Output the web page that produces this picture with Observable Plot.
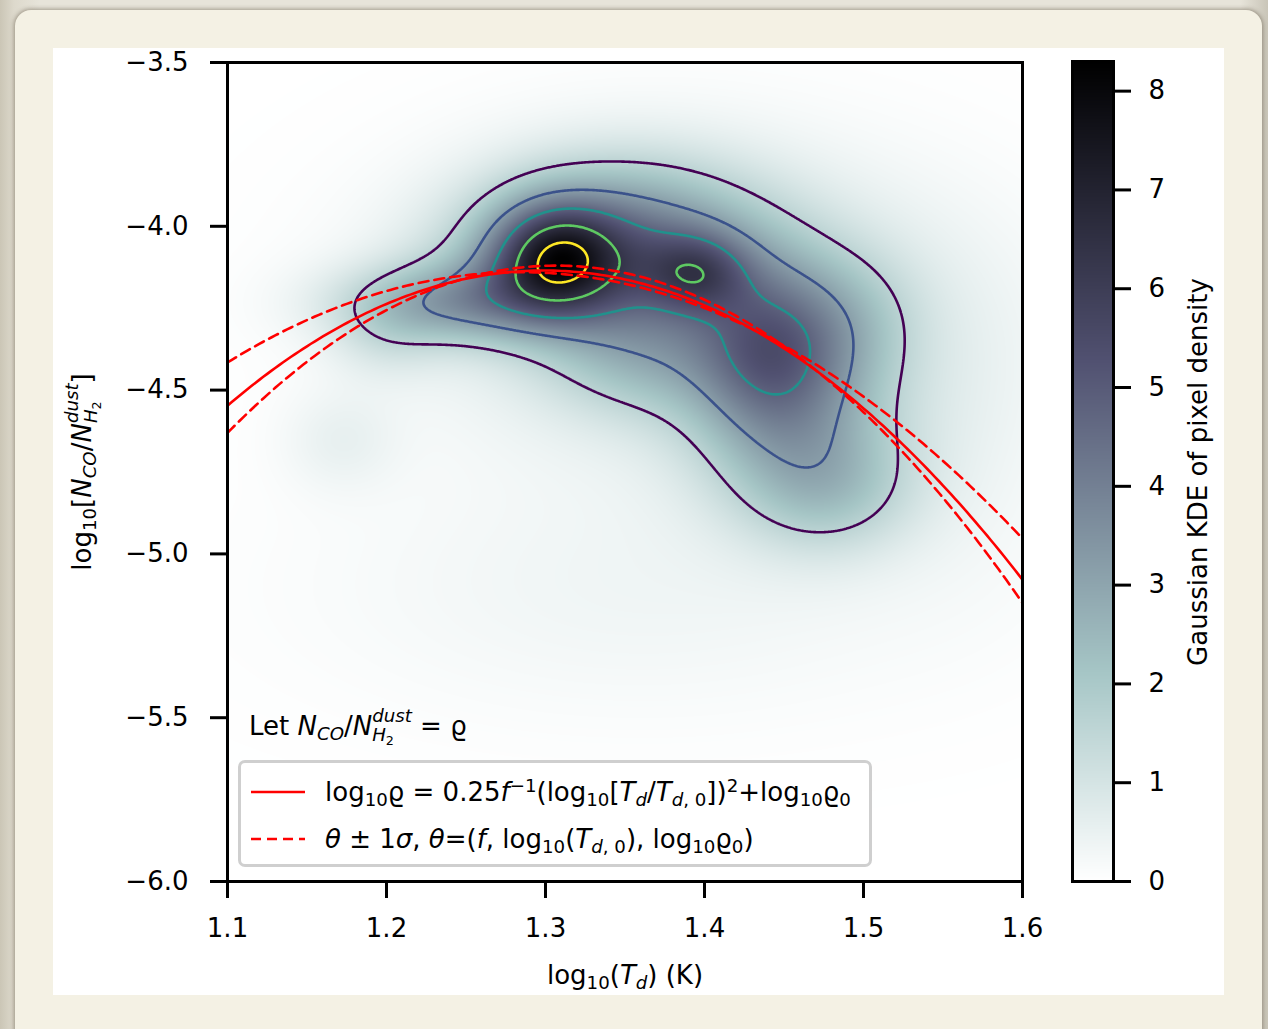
<!DOCTYPE html>
<html>
<head>
<meta charset="utf-8">
<script src="https://cdn.jsdelivr.net/npm/d3@7"></script>
<script src="https://cdn.jsdelivr.net/npm/@observablehq/plot@0.6"></script>
<style>
  html, body { margin: 0; padding: 0; }
  body {
    width: 1268px; height: 1029px; position: relative; overflow: hidden;
    background: linear-gradient(90deg, #cbc6b6 0px, #ddd9cc 14px, #e7e4da 40px, #e7e4da 1240px, #c9c5b8 1268px);
    font-family: "DejaVu Sans", sans-serif; color: #000;
  }
  #card {
    position: absolute; left: 15px; top: 10px; width: 1247px; height: 1060px;
    background: #f4f1e4; border-radius: 16px;
    box-shadow: 0 0 4px 1px rgba(70, 60, 40, 0.45);
  }
  #sheet { position: absolute; left: 53px; top: 48px; width: 1171px; height: 947px; background: #fff; }
  #main { position: absolute; left: 53px; top: 48px; }
  #bar { position: absolute; left: 1040px; top: 48px; }
  .txt { position: absolute; white-space: nowrap; font-size: 26px; line-height: 1; }
  .c { transform: translate(-50%, -50%); }
  .rot { transform: translate(-50%, -50%) rotate(-90deg); }
  i { font-style: italic; }
  sub { font-size: 0.7em; vertical-align: -0.28em; line-height: 0; }
  sup { font-size: 0.7em; vertical-align: 0.5em; line-height: 0; }
  .stack { display: inline-block; vertical-align: -0.32em; font-size: 0.7em; line-height: 1.02; text-align: left; }
  .stack span { display: block; }
  #legend {
    position: absolute; left: 238px; top: 760px; width: 628px; height: 101px;
    border: 3px solid #cfcfcf; border-radius: 7px; background: rgba(255, 255, 255, 0.8);
  }
  .row { position: absolute; left: 0; height: 30px; width: 100%; }
  .row svg { position: absolute; left: 8px; top: 0; }
  .row .txt { left: 84px; top: 50%; transform: translateY(-50%); }
</style>
</head>
<body>
<div id="card"></div>
<div id="sheet"></div>
<div id="main"></div>
<div id="bar"></div>

<div class="txt c" style="left:625px; top:975px;">log<sub>10</sub>(<i>T</i><sub><i>d</i></sub>) (K)</div>
<div class="txt rot" style="left:82px; top:472px;">log<sub>10</sub>[<i>N</i><sub><i>CO</i></sub>/<i>N</i><span class="stack"><span><i>dust</i></span><span><i>H</i><sub>2</sub></span></span>]</div>
<div class="txt rot" style="left:1198px; top:472px;">Gaussian KDE of pixel density</div>
<div class="txt" style="left:249px; top:707px;">Let <i>N</i><sub><i>CO</i></sub>/<i>N</i><span class="stack"><span><i>dust</i></span><span><i>H</i><sub>2</sub></span></span> = ϱ</div>

<div id="legend">
  <div class="row" style="top:14px;">
    <svg width="60" height="30"><line x1="2" y1="15" x2="56" y2="15" stroke="#ff0000" stroke-width="2.6"/></svg>
    <div class="txt">log<sub>10</sub>ϱ = 0.25<i>f</i><sup>−1</sup>(log<sub>10</sub>[<i>T</i><sub><i>d</i></sub>/<i>T</i><sub><i>d</i>, 0</sub>])<sup>2</sup>+log<sub>10</sub>ϱ<sub>0</sub></div>
  </div>
  <div class="row" style="top:61px;">
    <svg width="60" height="30"><line x1="2" y1="15" x2="56" y2="15" stroke="#ff0000" stroke-width="2.6" stroke-dasharray="10,6"/></svg>
    <div class="txt"><i>θ</i> ± 1<i>σ</i>, <i>θ</i>=(<i>f</i>, log<sub>10</sub>(<i>T</i><sub><i>d</i>, 0</sub>), log<sub>10</sub>ϱ<sub>0</sub>)</div>
  </div>
</div>

<script>
// Pixel clumps of the KDE: centre (log Td, log ratio), kernel spread along each axis, and weight.
const clumpX       = [1.305, 1.3346, 1.3956, 1.4415, 1.4572, 1.2434, 1.1994, 1.3912, 1.3503, 1.1711, 1.3597, 1.561, 1.4792, 1.3629, 1.4918];
const clumpY       = [-4.0952, -4.1105, -4.141, -4.3639, -4.608, -4.2326, -4.3425, -4.2265, -3.967, -4.6538, -5.1117, -4.5928, -4.8065, -4.379, -4.2875];
const clumpSpreadX = [0.0277, 0.0597, 0.0226, 0.0327, 0.0453, 0.0503, 0.0252, 0.1132, 0.0597, 0.0252, 0.1447, 0.0503, 0.0377, 0.044, 0.0314];
const clumpSpreadY = [0.116, 0.1465, 0.0855, 0.1832, 0.1984, 0.0855, 0.0916, 0.3053, 0.1526, 0.107, 0.275, 0.336, 0.1374, 0.1374, 0.1526];
const clumpWeight  = [3.8, 2.7, 2.3, 3.0, 1.8, 2.4, 0.6, 1.2, 1.5, 0.45, 0.35, 0.3, 1.3, 1.5, 1.0];

// Contour levels of the KDE
const contourLevels = [1.6, 3.2, 4.8, 6.4, 7.7];
const contourColors = ["#440154", "#3b528b", "#21918c", "#5ec962", "#fde725"];

// Parabola fits: best fit and the ±1σ parameter sets
const fitF       = [-0.0240, -0.0307, -0.0209];
const fitLogT0   = [1.299, 1.284, 1.3066];
const fitLogRho0 = [-4.135, -4.140, -4.120];

const xTicks = [1.1, 1.2, 1.3, 1.4, 1.5, 1.6];
const yTicks = [-6.0, -5.5, -5.0, -4.5, -4.0, -3.5];
const barTicks = [0, 1, 2, 3, 4, 5, 6, 7, 8];
const densityMax = 8.3;

function density(x, y) {
  let s = 0;
  for (let i = 0; i < clumpX.length; i++) {
    const u = (x - clumpX[i]) / clumpSpreadX[i];
    const v = (y - clumpY[i]) / clumpSpreadY[i];
    s += clumpWeight[i] * Math.exp(-0.5 * (u * u + v * v));
  }
  return s;
}

// bone_r colour map, piecewise linear in RGB
const boneStops = [0, 0.253968, 0.634921, 1];
const colorScale = {
  type: "linear",
  domain: boneStops.map(t => t * densityMax),
  range: ["#ffffff", "#a6c6c6", "#515171", "#000000"],
  interpolate: "rgb"
};

const fmtMinus = d => d.toFixed(1).replace("-", "\u2212");

const curveX = d3.range(0, 201).map(i => 1.1 + i * 0.0025);
const fits = fitF.map((f, k) => curveX.map(x => ({
  x, y: 0.25 / f * (x - fitLogT0[k]) ** 2 + fitLogRho0[k]
})));

const axisStyle = { tickSize: 17, strokeWidth: 3, fontSize: 26, label: null };
const plotStyle = { fontFamily: "DejaVu Sans", fontSize: "26px", color: "#000", background: "transparent", overflow: "visible" };

const main = Plot.plot({
  width: 1000, height: 947,
  marginLeft: 174, marginRight: 31, marginTop: 14, marginBottom: 114,
  x: { domain: [1.1, 1.6] },
  y: { domain: [-6, -3.5] },
  color: colorScale,
  style: plotStyle,
  marks: [
    Plot.raster({ x1: 1.1, x2: 1.6, y1: -6, y2: -3.5, fill: density, pixelSize: 1 }),
    ...contourLevels.map((level, i) => Plot.contour({
      x1: 1.1, x2: 1.6, y1: -6, y2: -3.5, value: density, thresholds: [level],
      fill: "none", stroke: contourColors[i], strokeWidth: 2.6, pixelSize: 1
    })),
    ...fits.map((pts, k) => Plot.line(pts, {
      x: "x", y: "y", stroke: "#ff0000", strokeWidth: 2.6, clip: "frame",
      strokeDasharray: k === 0 ? null : "10,6"
    })),
    Plot.frame({ stroke: "#000", strokeWidth: 3 }),
    Plot.axisX({ ...axisStyle, ticks: xTicks, tickPadding: 20, tickFormat: d => d.toFixed(1) }),
    Plot.axisY({ ...axisStyle, ticks: yTicks, tickPadding: 22, tickFormat: fmtMinus })
  ]
});
document.getElementById("main").append(main);

const bar = Plot.plot({
  width: 184, height: 947,
  marginLeft: 32, marginRight: 111, marginTop: 13, marginBottom: 114,
  x: { domain: [0, 1], axis: null },
  y: { domain: [0, densityMax] },
  color: colorScale,
  style: plotStyle,
  marks: [
    Plot.raster({ x1: 0, x2: 1, y1: 0, y2: densityMax, fill: (x, y) => y, pixelSize: 1 }),
    Plot.frame({ stroke: "#000", strokeWidth: 3 }),
    Plot.axisY({ ...axisStyle, anchor: "right", ticks: barTicks, tickPadding: 18, tickFormat: d => String(d) })
  ]
});
document.getElementById("bar").append(bar);
</script>
</body>
</html>
